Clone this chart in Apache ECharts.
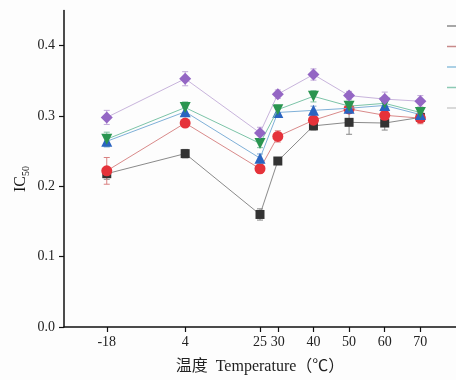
<!DOCTYPE html>
<html><head><meta charset="utf-8">
<script src="https://cdn.jsdelivr.net/npm/echarts@6/dist/echarts.min.js"></script>
<style>html,body{margin:0;padding:0;background:#fdfdfd}#c{width:456px;height:380px}</style>
</head><body><div id="c"></div>
<script>
const temps = [-18, 4, 25, 30, 40, 50, 60, 70];
const xTickLabels = [-18, 4, 25, 30, 40, 50, 60, 70];
const yTickLabels = [0, 0.1, 0.2, 0.3, 0.4];
const seriesNames = ['S1', 'S2', 'S3', 'S4', 'S5'];
const blackVals  = [0.218, 0.2465, 0.160, 0.236, 0.286, 0.291, 0.290, 0.298];
const redVals    = [0.222, 0.290, 0.225, 0.271, 0.294, 0.310, 0.301, 0.297];
const blueVals   = [0.264, 0.306, 0.240, 0.305, 0.308, 0.311, 0.315, 0.302];
const greenVals  = [0.267, 0.312, 0.261, 0.309, 0.328, 0.314, 0.318, 0.305];
const purpleVals = [0.298, 0.353, 0.276, 0.331, 0.359, 0.329, 0.324, 0.321];
const blackErr  = [0.008, 0.006, 0.008, 0.005, 0.006, 0.017, 0.010, 0.006];
const redErr    = [0.019, 0.005, 0.006, 0.008, 0.008, 0.006, 0.006, 0.008];
const blueErr   = [0.008, 0.006, 0.006, 0.005, 0.006, 0.006, 0.006, 0.006];
const greenErr  = [0.010, 0.008, 0.006, 0.006, 0.008, 0.006, 0.006, 0.006];
const purpleErr = [0.010, 0.010, 0.008, 0.006, 0.008, 0.006, 0.010, 0.008];

const defs = [
  {vals: blackVals, err: blackErr, mark: '#333333', line: '#8a8a8a', errc: '#888888', symbol: 'rect', size: 9},
  {vals: redVals, err: redErr, mark: '#e5323a', line: '#d98a8a', errc: '#d98080', symbol: 'circle', size: 11},
  {vals: blueVals, err: blueErr, mark: '#2a64c0', line: '#7fb0d8', errc: '#80a8d0', symbol: 'triangle', size: 11},
  {vals: greenVals, err: greenErr, mark: '#2a9550', line: '#7cc4a8', errc: '#80c0a0', symbol: 'path://M0,0 L10,0 L5,9 Z', size: 11},
  {vals: purpleVals, err: purpleErr, mark: '#9466c4', line: '#c8b4dc', errc: '#c0a8d8', symbol: 'diamond', size: 12}
];
const legendColors = ['#8a8a8a', '#c88a8a', '#8fc0dc', '#8ccab4', '#cccccc'];

const serif = '"Liberation Serif","DejaVu Serif",serif';
const series = [];
defs.forEach((d, i) => {
  series.push({
    type: 'custom', name: seriesNames[i] + '_err', silent: true, z: 1,
    data: temps.map((t, k) => [t, d.vals[k] - d.err[k], d.vals[k] + d.err[k]]),
    renderItem: function (params, api) {
      const lo = api.coord([api.value(0), api.value(1)]);
      const hi = api.coord([api.value(0), api.value(2)]);
      const w = 3;
      const st = {stroke: d.errc, lineWidth: 1, fill: null};
      return {type: 'group', children: [
        {type: 'line', shape: {x1: lo[0], y1: lo[1], x2: hi[0], y2: hi[1]}, style: st},
        {type: 'line', shape: {x1: lo[0] - w, y1: lo[1], x2: lo[0] + w, y2: lo[1]}, style: st},
        {type: 'line', shape: {x1: hi[0] - w, y1: hi[1], x2: hi[0] + w, y2: hi[1]}, style: st}
      ]};
    }
  });
});
defs.forEach((d, i) => {
  series.push({
    type: 'line', name: seriesNames[i], z: 2 + i,
    data: temps.map((t, k) => [t, d.vals[k]]),
    symbol: d.symbol, symbolSize: d.size, showAllSymbol: true,
    itemStyle: {color: d.mark, opacity: 1},
    lineStyle: {color: d.line, width: 1},
    emphasis: {disabled: true}
  });
});

const chart = echarts.init(document.getElementById('c'), null, {renderer: 'canvas'});
chart.setOption({
  backgroundColor: '#fdfdfd',
  animation: false,
  grid: {left: 64, top: 10.5, width: 396, height: 319.5},
  legend: {
    orient: 'vertical', left: 447, top: 17, padding: 0, icon: 'rect', itemWidth: 25, itemHeight: 1.5, itemGap: 2.5,
    textStyle: {fontSize: 12, height: 18, lineHeight: 18, color: '#333', fontFamily: serif},
    data: seriesNames.map((n, i) => ({name: n, itemStyle: {color: legendColors[i]}}))
  },
  xAxis: {
    type: 'value', min: -30, max: 80,
    name: '温度  Temperature（℃）', nameLocation: 'middle', nameGap: 32,
    nameTextStyle: {fontSize: 16, color: '#222', fontFamily: '"Liberation Serif","Noto Sans CJK SC",serif'},
    axisLine: {onZero: false, lineStyle: {color: '#111', width: 1.5}},
    axisTick: {show: true, length: 5, lineStyle: {color: '#111', width: 1.2}, customValues: xTickLabels},
    axisLabel: {fontSize: 14, color: '#222', fontFamily: serif, margin: 8, customValues: xTickLabels},
    splitLine: {show: false}
  },
  yAxis: {
    type: 'value', min: 0, max: 0.45,
    axisLine: {show: true, onZero: false, lineStyle: {color: '#111', width: 1.5}},
    axisTick: {show: true, length: 5, lineStyle: {color: '#111', width: 1.2}, customValues: yTickLabels},
    axisLabel: {fontSize: 14, color: '#222', fontFamily: serif, margin: 9, customValues: yTickLabels,
      formatter: v => v.toFixed(1)},
    splitLine: {show: false}
  },
  graphic: [{
    type: 'text', x: 21, y: 179, rotation: Math.PI / 2,
    style: {
      text: '{a|IC}{b|50}', align: 'center', verticalAlign: 'middle',
      rich: {
        a: {fontSize: 16, fontFamily: serif, fill: '#111', verticalAlign: 'middle', lineHeight: 20},
        b: {fontSize: 10, fontFamily: serif, fill: '#111', verticalAlign: 'bottom', lineHeight: 20}
      }
    }
  }],
  series: series
});
</script>
</body></html>
